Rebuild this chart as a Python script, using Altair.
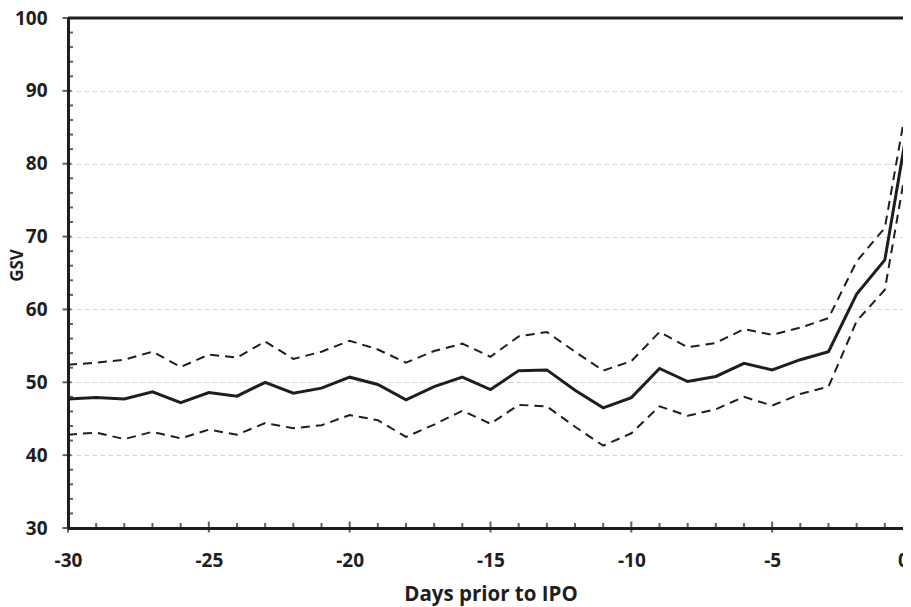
import altair as alt
import pandas as pd

# ---- data ----
days = list(range(-30, 1))
mean_gsv = [47.7, 47.9, 47.7, 48.7, 47.2, 48.6, 48.1, 50.0, 48.5, 49.2,
            50.7, 49.7, 47.6, 49.4, 50.7, 49.0, 51.6, 51.7, 48.9, 46.5,
            47.9, 51.9, 50.1, 50.8, 52.6, 51.7, 53.1, 54.2, 62.1, 66.8, 89.5]
upper_gsv = [52.4, 52.7, 53.1, 54.2, 52.1, 53.8, 53.4, 55.6, 53.2, 54.2,
             55.7, 54.5, 52.7, 54.3, 55.3, 53.5, 56.3, 56.9, 54.2, 51.6,
             52.9, 56.9, 54.8, 55.4, 57.3, 56.5, 57.5, 58.8, 66.6, 71.2, 93.0]
lower_gsv = [42.8, 43.1, 42.2, 43.2, 42.3, 43.5, 42.8, 44.4, 43.7, 44.1,
             45.5, 44.8, 42.5, 44.2, 46.1, 44.3, 46.9, 46.7, 43.9, 41.3,
             43.0, 46.7, 45.4, 46.3, 48.0, 46.8, 48.4, 49.4, 58.4, 62.7, 85.0]

y_major = list(range(30, 101, 10))
y_minor = [v for v in range(32, 100, 2) if v % 10]
x_major = list(range(-30, 1, 5))
x_minor = [d for d in range(-29, 0) if d % 5]

x_title = "Days prior to IPO"
y_title = "GSV"

df = pd.DataFrame({"day": days, "mean": mean_gsv,
                   "upper": upper_gsv, "lower": lower_gsv})

FONT = "Open Sans"
INK = "#1e1e1e"
xscale = alt.Scale(domain=[-30, 0], nice=False, zero=False)
yscale = alt.Scale(domain=[30, 100], nice=False, zero=False)

x_axis = alt.Axis(values=x_major, title=x_title, labelPadding=23,
                  labelExpr="'' + datum.value",
                  labelOffset={"condition": {"test": "datum.value == 0",
                                             "value": -10},
                               "value": 0},
                  titleY=72, titleBaseline="alphabetic", titleFontSize=20.5,
                  labelFlush=False, grid=False)
y_axis = alt.Axis(values=y_major, title=y_title, labelPadding=21,
                  titleX=-51, titleY=247, titleAngle=-90, titleFontSize=17,
                  titleBaseline="middle", grid=True)

base = alt.Chart(df)

mean_line = base.mark_line(color=INK, strokeWidth=3).encode(
    x=alt.X("day:Q", scale=xscale, axis=x_axis),
    y=alt.Y("mean:Q", scale=yscale, axis=y_axis),
)
upper_line = base.mark_line(color=INK, strokeWidth=2, strokeDash=[9, 6]).encode(
    x=alt.X("day:Q", scale=xscale, title=x_title),
    y=alt.Y("upper:Q", scale=yscale, title=y_title),
)
lower_line = base.mark_line(color=INK, strokeWidth=2, strokeDash=[9, 6]).encode(
    x=alt.X("day:Q", scale=xscale, title=x_title),
    y=alt.Y("lower:Q", scale=yscale, title=y_title),
)

top_border = alt.Chart(pd.DataFrame({"v": [100]})).mark_rule(
    color=INK, strokeWidth=3).encode(
    y=alt.Y("v:Q", scale=yscale, title=y_title))

ymaj = alt.Chart(pd.DataFrame({"v": y_major})).mark_tick(
    orient="horizontal", size=9, thickness=2, color=INK, xOffset=-1).encode(
    y=alt.Y("v:Q", scale=yscale, title=y_title), x=alt.datum(-30))
ymin = alt.Chart(pd.DataFrame({"v": y_minor})).mark_tick(
    orient="horizontal", size=5, thickness=2, color=INK, xOffset=2.5).encode(
    y=alt.Y("v:Q", scale=yscale, title=y_title), x=alt.datum(-30))
xmaj = alt.Chart(pd.DataFrame({"d": x_major})).mark_tick(
    orient="vertical", size=11, thickness=2, color=INK, yOffset=-1).encode(
    x=alt.X("d:Q", scale=xscale, title=x_title), y=alt.datum(30))
xmin = alt.Chart(pd.DataFrame({"d": x_minor})).mark_tick(
    orient="vertical", size=5, thickness=2, color=INK, yOffset=-2.5).encode(
    x=alt.X("d:Q", scale=xscale, title=x_title), y=alt.datum(30))

chart = alt.layer(
    mean_line, upper_line, lower_line, top_border,
    ymaj, ymin, xmaj, xmin
).properties(
    width=845, height=510,
    autosize=alt.AutoSizeParams(type="none"),
    padding={"left": 60, "top": 10, "right": -10, "bottom": 79},
    background="white",
).configure_view(stroke=None).configure_axis(
    domainColor=INK, domainWidth=3, ticks=False,
    labelFont=FONT, labelFontWeight="bold", labelFontSize=19, labelColor=INK,
    titleFont=FONT, titleFontWeight="bold", titleFontSize=18, titleColor=INK,
    gridColor="#d4d4d4", gridDash=[5, 3], gridWidth=1,
)

chart.save("out.html", embed_options={"renderer": "svg", "actions": False})
